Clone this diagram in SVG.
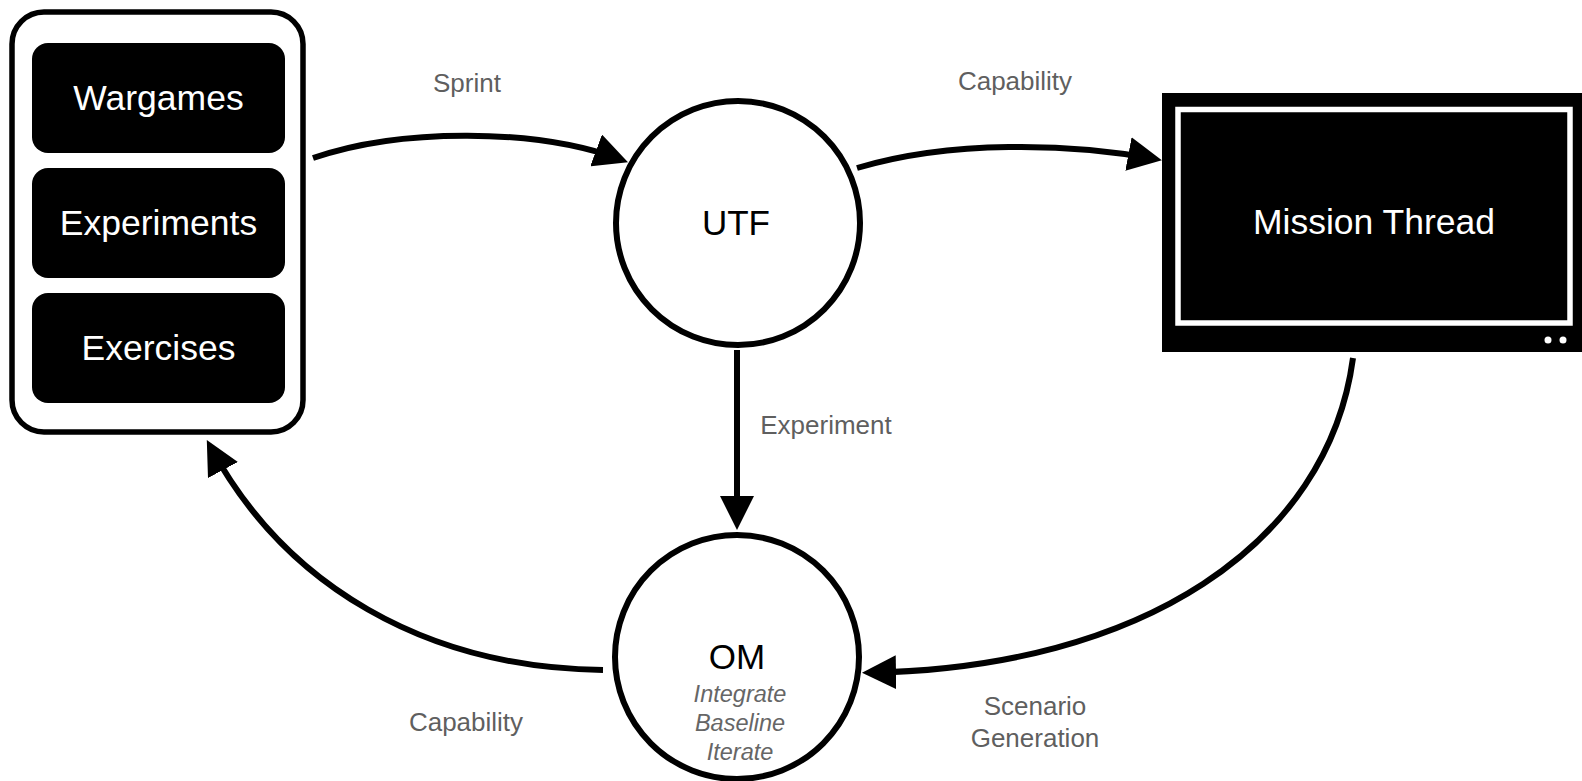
<svg xmlns="http://www.w3.org/2000/svg" width="1582" height="781" viewBox="0 0 1582 781">
<style>
.box{fill:#000;}
.boxtxt{font-family:"Liberation Sans",Arial,sans-serif;font-size:35.5px;fill:#fff;text-anchor:middle;}
.node{fill:#fff;stroke:#000;stroke-width:6;}
.ntxt{font-family:"Liberation Sans",Arial,sans-serif;font-size:35px;fill:#000;text-anchor:middle;}
.sub{font-family:"Liberation Sans",Arial,sans-serif;font-size:23.5px;font-style:italic;fill:#666;text-anchor:middle;}
.lbl{font-family:"Liberation Sans",Arial,sans-serif;font-size:26px;fill:#5f5f5f;text-anchor:middle;}
.edge{fill:none;stroke:#000;stroke-width:6;marker-end:url(#ah);}
</style>
<defs>
<marker id="ah" markerUnits="userSpaceOnUse" markerWidth="34" markerHeight="34" viewBox="0 0 34 34" refX="26" refY="17" orient="auto">
<path d="M0,0 L34,17 L0,34 Z" fill="#000"/>
</marker>
</defs>
<rect width="1582" height="781" fill="#fff"/>

<g id="sources">
<rect x="12" y="12" width="291" height="420" rx="32" fill="#fff" stroke="#000" stroke-width="5.5"/>
<rect class="box" x="32" y="43" width="253" height="110" rx="16"/>
<text class="boxtxt" x="158.5" y="110">Wargames</text>
<rect class="box" x="32" y="168" width="253" height="110" rx="16"/>
<text class="boxtxt" x="158.5" y="235">Experiments</text>
<rect class="box" x="32" y="293" width="253" height="110" rx="16"/>
<text class="boxtxt" x="158.5" y="360">Exercises</text>
</g>

<g id="utf">
<circle class="node" cx="738" cy="223" r="122"/>
<text class="ntxt" x="736" y="235">UTF</text>
</g>

<g id="mission-thread">
<rect x="1162" y="93" width="420" height="259" fill="#000"/>
<rect x="1178" y="109.5" width="392" height="213.5" fill="none" stroke="#fff" stroke-width="5.5"/>
<circle cx="1548" cy="340" r="3.5" fill="#fff"/>
<circle cx="1563" cy="340" r="3.5" fill="#fff"/>
<text class="boxtxt" x="1374" y="234">Mission Thread</text>
</g>

<g id="om">
<circle class="node" cx="737" cy="657" r="122"/>
<text class="ntxt" x="737" y="669">OM</text>
<text class="sub" x="740" y="702">Integrate</text>
<text class="sub" x="740" y="731">Baseline</text>
<text class="sub" x="740" y="760">Iterate</text>
</g>

<g id="connectors">
<path class="edge" d="M313,158 C400,128 535,128 620.5,159.4"/>
<path class="edge" d="M857,168 C950,140 1070,143 1154,158.8"/>
<path class="edge" d="M737,350 L737,522"/>
<path class="edge" d="M1353,358 C1328,545 1140,668 870,672.6"/>
<path class="edge" d="M603,670 C425,668 285,585 210.6,447.1"/>
<text class="lbl" x="467" y="92">Sprint</text>
<text class="lbl" x="1015" y="90">Capability</text>
<text class="lbl" x="826" y="434">Experiment</text>
<text class="lbl" x="1035" y="715">Scenario</text>
<text class="lbl" x="1035" y="747">Generation</text>
<text class="lbl" x="466" y="731">Capability</text>
</g>
</svg>
